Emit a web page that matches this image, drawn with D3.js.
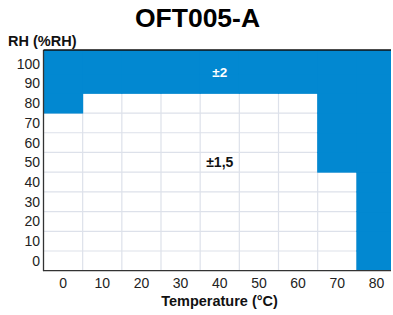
<!DOCTYPE html>
<html>
<head>
<meta charset="utf-8">
<script src="https://cdn.jsdelivr.net/npm/d3@7"></script>
<style>
  html, body { margin: 0; padding: 0; background: #fff; }
  svg { display: block; font-family: "Liberation Sans", Arial, sans-serif; }
</style>
</head>
<body>
<svg id="chart" width="393" height="315"></svg>
<script>
// ---- data ----
const title = "OFT005-A";
const xTitle = "Temperature (°C)";
const yTitle = "RH (%RH)";
const temps = [0, 10, 20, 30, 40, 50, 60, 70, 80];
const rhLevels = [0, 10, 20, 30, 40, 50, 60, 70, 80, 90, 100];
// highest RH (per temperature) still within ±1,5 ; null = none
const limit15 = [70, 80, 80, 80, 80, 80, 80, 40, null];
const zoneLabels = ["±2", "±1,5"];
const zoneLabelTemp = [40, 40];
const zoneLabelRH = [96, 50];

(function () {
  const svg = d3.select("#chart");
  const pLeft = 43.5, pRight = 391, pTop = 50, pBottom = 270.7;
  const blue = "#0288d1";

  const x = d3.scaleBand().domain(temps).range([pLeft, 396]).padding(0);
  const y = d3.scaleLinear().domain([-5, 107]).range([pBottom, pTop]);
  const rhMax = d3.max(rhLevels);

  const cells = [];
  temps.forEach((t, i) => {
    rhLevels.forEach(r => {
      const lim = limit15[i];
      const zone = (lim !== null && r <= lim) ? "±1,5" : "±2";
      cells.push({ t, r, zone });
    });
  });

  svg.append("defs").append("clipPath").attr("id", "plotclip")
    .append("rect").attr("x", pLeft).attr("y", pTop).attr("width", pRight - pLeft).attr("height", pBottom - pTop);

  const plot = svg.append("g").attr("clip-path", "url(#plotclip)");

  const gridColor = "#dde1ea";
  temps.slice(1).forEach(t => {
    plot.append("line").attr("x1", x(t)).attr("x2", x(t)).attr("y1", pTop).attr("y2", pBottom)
      .attr("stroke", gridColor).attr("stroke-width", 1.2);
  });
  rhLevels.forEach(r => {
    plot.append("line").attr("x1", pLeft).attr("x2", pRight).attr("y1", y(r + 5)).attr("y2", y(r + 5))
      .attr("stroke", gridColor).attr("stroke-width", 1.2);
  });

  plot.selectAll("rect.cell").data(cells.filter(d => d.zone === "±2")).enter()
    .append("rect").attr("class", "cell")
    .attr("x", d => x(d.t) - 0.5)
    .attr("width", x.bandwidth() + 1)
    .attr("y", d => (d.r === rhMax ? pTop : y(d.r + 5)) - 0.5)
    .attr("height", d => (d.r === rhMax ? y(d.r - 5) - pTop : y(d.r - 5) - y(d.r + 5)) + 1)
    .attr("fill", blue);

  svg.append("line").attr("x1", pLeft).attr("x2", pLeft).attr("y1", pTop).attr("y2", pBottom + 0.5)
    .attr("stroke", "#333").attr("stroke-width", 1.3);
  svg.append("line").attr("x1", pLeft).attr("x2", pRight).attr("y1", pBottom).attr("y2", pBottom)
    .attr("stroke", "#333").attr("stroke-width", 1.3);
  svg.append("line").attr("x1", pLeft).attr("x2", pRight).attr("y1", pTop).attr("y2", pTop)
    .attr("stroke", "#111").attr("stroke-width", 1.3);

  svg.selectAll("text.ytick").data(rhLevels).enter().append("text")
    .attr("class", "ytick").attr("x", 40).attr("y", d => y(d) + 5)
    .attr("text-anchor", "end").attr("font-size", 14).attr("fill", "#222").text(d => d);
  svg.selectAll("text.xtick").data(temps).enter().append("text")
    .attr("class", "xtick").attr("x", d => x(d) + x.bandwidth() / 2).attr("y", 287.5)
    .attr("text-anchor", "middle").attr("font-size", 14).attr("fill", "#222").text(d => d);

  zoneLabels.forEach((lab, i) => {
    svg.append("text")
      .attr("x", x(zoneLabelTemp[i]) + x.bandwidth() / 2)
      .attr("y", y(zoneLabelRH[i]) + 5)
      .attr("text-anchor", "middle").attr("font-size", lab === "±2" ? 13.5 : 14).attr("font-weight", "bold")
      .attr("fill", lab === "±2" ? "#fff" : "#111").text(lab);
  });

  svg.append("text").attr("x", 197.5).attr("y", 27).attr("text-anchor", "middle")
    .attr("font-size", 26.5).attr("font-weight", "bold").attr("fill", "#000").text(title);
  svg.append("text").attr("x", 8).attr("y", 46)
    .attr("font-size", 14.5).attr("font-weight", "bold").attr("fill", "#111").text(yTitle);
  svg.append("text").attr("x", 219.5).attr("y", 305.5).attr("text-anchor", "middle")
    .attr("font-size", 14.5).attr("font-weight", "bold").attr("fill", "#111").text(xTitle);
})();
</script>
</body>
</html>
